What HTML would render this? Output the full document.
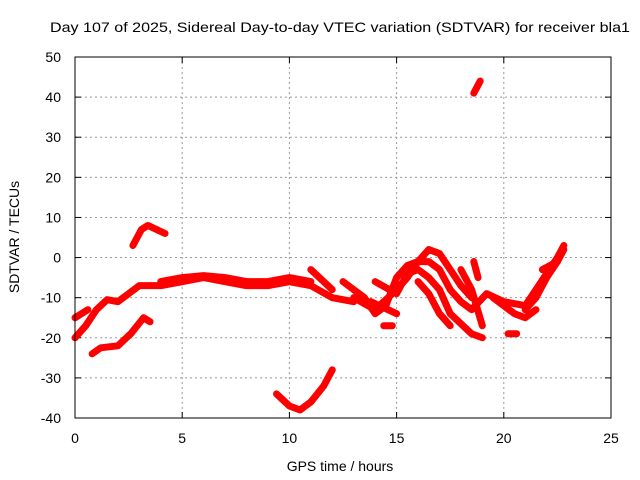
<!DOCTYPE html>
<html><head><meta charset="utf-8"><style>
body{margin:0;background:#fff;}
svg{display:block;font-family:"Liberation Sans",sans-serif;}
</style></head><body>
<svg id="chart" width="640" height="480">
<text x="340" y="32" text-anchor="middle" font-size="14" textLength="580" lengthAdjust="spacingAndGlyphs">Day 107 of 2025, Sidereal Day-to-day VTEC variation (SDTVAR) for receiver bla1</text>
<text x="340" y="471" text-anchor="middle" font-size="14">GPS time / hours</text>
<text transform="translate(19,237) rotate(-90)" text-anchor="middle" font-size="14">SDTVAR / TECUs</text>
<g id="grid"></g><g id="ticks"></g><g id="series"></g>
<rect x="75" y="57" width="536" height="361" fill="none" stroke="#000" stroke-width="1"/>
</svg>
<script>
const xTicks=[0,5,10,15,20,25];
const yTicks=[-40,-30,-20,-10,0,10,20,30,40,50];
const trackMain=[[0,-20],[0.5,-17],[1,-13],[1.5,-10.5],[2,-11],[2.5,-9],[3,-7],[4,-7],[5,-6],[6,-5],[7,-6],[8,-7],[9,-7],[10,-6],[11,-7],[12,-10],[13,-11]];
const trackMain2=[[4,-6],[5,-5],[6,-4.5],[7,-5],[8,-6],[9,-6],[10,-5],[11,-6]];
const trackStart=[[0,-15],[0.6,-13]];
const trackArcUp=[[2.7,3],[3.1,7],[3.4,8],[4.2,6]];
const trackLow=[[0.8,-24],[1.2,-22.5],[2,-22],[2.6,-19],[3.2,-15],[3.5,-16]];
const trackDip=[[9.4,-34],[10,-37],[10.5,-38],[11,-36],[11.6,-32],[12,-28]];
const trackBranch=[[11,-3],[12,-8]];
const trackSpike=[[18.6,41],[18.9,44]];
const trackA=[[12.5,-6],[13.5,-10],[14,-14],[14.5,-12],[15,-5],[15.5,-2],[16,-1],[16.5,-1],[17,-3],[17.5,-8],[18,-11],[18.5,-13],[19.2,-9],[20,-11],[21,-12],[21.5,-8],[22,-4],[22.5,0],[22.8,3]];
const trackB=[[13,-10],[14,-13],[15,-8],[15.5,-5],[16,-1],[16.5,2],[17,1],[17.5,-3],[18,-7],[18.5,-10]];
const trackC=[[14,-6],[15,-9],[15.5,-4],[16,-3],[16.5,-5],[17,-8],[17.5,-14],[18.5,-19],[19,-20]];
const trackD=[[16,-6],[16.5,-9],[17,-14],[17.5,-17]];
const trackE=[[18,-3],[18.5,-8],[19,-17]];
const trackF=[[18.6,-1],[18.8,-5]];
const trackG=[[20.2,-19],[20.6,-19]];
const trackH=[[21,-13],[21.5,-10],[22,-5],[22.5,-1],[22.8,2]];
const trackI=[[21.8,-3],[22.5,-1]];
const trackJ=[[19.5,-10],[20.5,-14],[21,-15],[21.5,-13]];
const trackK=[[14.4,-17],[14.8,-17]];
const trackL=[[13.8,-11],[15,-14]];
const tracks=[trackMain,trackMain2,trackStart,trackArcUp,trackLow,trackDip,trackBranch,trackSpike,trackA,trackB,trackC,trackD,trackE,trackF,trackG,trackH,trackI,trackJ,trackK,trackL];
const X=h=>75+h*536/25, Y=v=>418-(v+40)*361/90;
const NS="http://www.w3.org/2000/svg";
const grid=document.getElementById('grid'),ticks=document.getElementById('ticks'),ser=document.getElementById('series');
function mk(t,a,p){const e=document.createElementNS(NS,t);for(const k in a)e.setAttribute(k,a[k]);p.appendChild(e);return e;}
xTicks.forEach(t=>{
 if(t>0&&t<25){const g=mk('line',{x1:X(t),x2:X(t),y1:57,y2:418,stroke:'#999','stroke-dasharray':'2,3'},grid);
 
 }
 const l=mk('text',{x:X(t),y:443,'text-anchor':'middle','font-size':14},ticks);l.textContent=t;
 
 
 mk('line',{x1:X(t),x2:X(t),y1:418,y2:412,stroke:'#000'},ticks);
 mk('line',{x1:X(t),x2:X(t),y1:57,y2:63,stroke:'#000'},ticks);
});
yTicks.forEach(t=>{
 if(t>-40&&t<50){const g=mk('line',{x1:75,x2:611,y1:Y(t),y2:Y(t),stroke:'#999','stroke-dasharray':'2,3'},grid);
 
 }
 const l=mk('text',{x:61,y:Y(t)+5,'text-anchor':'end','font-size':14},ticks);l.textContent=t;
 
 
 mk('line',{x1:75,x2:81,y1:Y(t),y2:Y(t),stroke:'#000'},ticks);
 mk('line',{x1:605,x2:611,y1:Y(t),y2:Y(t),stroke:'#000'},ticks);
});
tracks.forEach(tr=>{
 const p=mk('polyline',{points:tr.map(d=>X(d[0])+','+Y(d[1])).join(' '),fill:'none',stroke:'#f00','stroke-width':7,'stroke-linejoin':'round','stroke-linecap':'round'},ser);
 
 
});
</script>
</body></html>
